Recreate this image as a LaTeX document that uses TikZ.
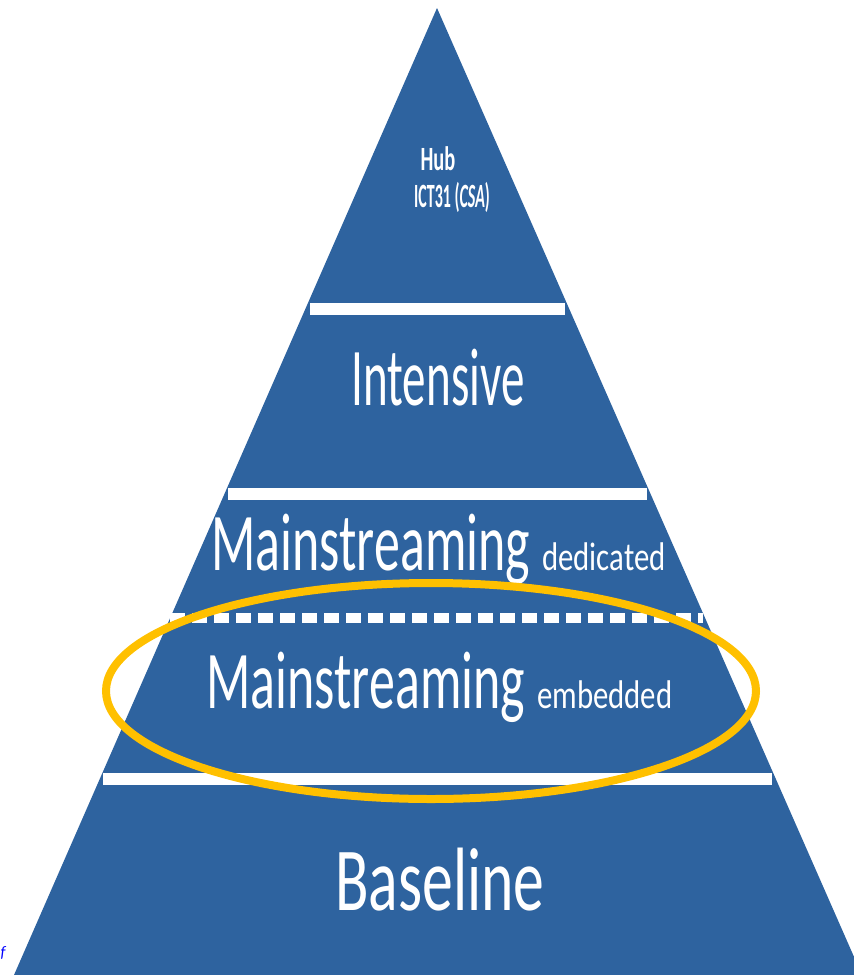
\documentclass[tikz,border=0pt]{standalone}
\usepackage{fontspec}
\setmainfont{Carlito}
\usepackage{graphicx}
\usetikzlibrary{positioning}
\definecolor{pyrblue}{RGB}{46,99,159}
\definecolor{ringgold}{RGB}{255,192,0}
\newcommand{\squeeze}[2]{\scalebox{#1}[1]{#2}}
\newcommand{\sz}[1]{\fontsize{#1}{#1}\selectfont}

\begin{document}
\begin{tikzpicture}[x=0.5pt,y=-0.5pt,
    lbl/.style={text=white,inner sep=0pt,anchor=base},
    band/.style={white,line width=6pt},
    cutline/.style={white,line width=5pt,dash pattern=on 7.5pt off 3.5pt}]
				\useasboundingbox (0,0) rectangle (854,975);
				\clip (0,0) rectangle (854,975);
				\fill[pyrblue] (437,8) -- (862,975) -- (14,975) -- cycle;
				\draw[band] (310,309) -- (565,309);
				\draw[band] (228,494) -- (647,494);
				\draw[cutline] (170,618) -- (703,618);
				\draw[band] (103,779) -- (772,779);
				\node at (438,170) [lbl] (hub) {\squeeze{0.6}{\sz{17}\bfseries Hub}};
				\node at (452,207) [lbl] (hubcode) {\squeeze{0.47}{\sz{17}\bfseries ICT31 (\textit{CSA})}};
				\node at (438,405) [lbl] (intensive) {\squeeze{0.574}{\sz{41}Intensive}};
				\node at (211,570) [lbl,anchor=base west] (dedicated) {\squeeze{0.633}{\sz{41}Mainstreaming}\hspace{6pt}\squeeze{0.77}{\sz{20}dedicated}};
				\node at (206,708) [lbl,anchor=base west] (embedded) {\squeeze{0.633}{\sz{41}Mainstreaming}\hspace{6pt}\squeeze{0.77}{\sz{20}embedded}};
				\node at (440,910) [lbl] (baseline) {\squeeze{0.685}{\sz{45}Baseline}};
				\draw[ringgold,line width=4pt] (431,691) ellipse [x radius=325,y radius=108];
				\node at (3,957) [inner sep=0pt,anchor=base,text=blue] (stray) {\sz{8}\itshape f};
			\end{tikzpicture}
\end{document}
